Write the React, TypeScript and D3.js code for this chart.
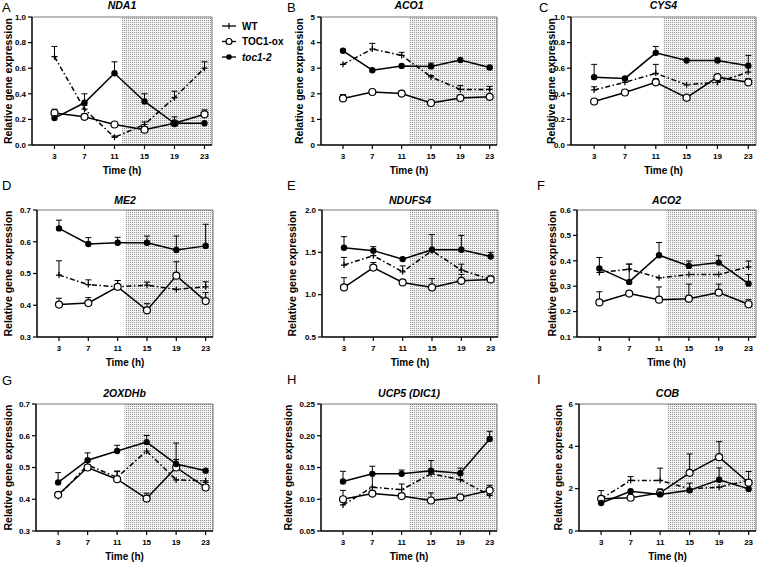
import React from "react";
import * as d3 from "d3";

const TIMES = [3, 7, 11, 15, 19, 23];

// A  NDA1
const nda1WT = [0.69, 0.28, 0.06, 0.16, 0.37, 0.6];
const nda1WTErr = [0.08, 0.03, 0.01, 0.02, 0.05, 0.05];
const nda1OX = [0.25, 0.22, 0.16, 0.12, 0.17, 0.24];
const nda1OXErr = [0.03, 0.02, 0, 0.02, 0.05, 0.035];
const nda1TOC = [0.21, 0.33, 0.56, 0.34, 0.17, 0.17];
const nda1TOCErr = [0.02, 0.07, 0.09, 0.06, 0, 0];

// B  ACO1
const aco1WT = [3.15, 3.75, 3.5, 2.66, 2.17, 2.17];
const aco1WTErr = [0, 0.22, 0.12, 0.05, 0.15, 0.12];
const aco1OX = [1.82, 2.07, 2.01, 1.64, 1.84, 1.88];
const aco1OXErr = [0.15, 0, 0, 0, 0, 0];
const aco1TOC = [3.68, 2.92, 3.09, 3.07, 3.32, 3.03];
const aco1TOCErr = [0, 0, 0, 0.13, 0, 0];

// C  CYS4
const cys4WT = [0.43, 0.49, 0.56, 0.47, 0.49, 0.57];
const cys4WTErr = [0.025, 0, 0.07, 0, 0, 0.05];
const cys4OX = [0.34, 0.41, 0.49, 0.37, 0.53, 0.49];
const cys4OXErr = [0, 0, 0.03, 0, 0, 0.03];
const cys4TOC = [0.53, 0.52, 0.72, 0.66, 0.66, 0.62];
const cys4TOCErr = [0.1, 0, 0.05, 0, 0.02, 0.08];

// D  ME2
const me2WT = [0.495, 0.465, 0.458, 0.463, 0.45, 0.458];
const me2WTErr = [0.045, 0.015, 0.02, 0.01, 0, 0.016];
const me2OX = [0.402, 0.407, 0.458, 0.384, 0.493, 0.413];
const me2OXErr = [0.02, 0.017, 0.02, 0.021, 0.044, 0.027];
const me2TOC = [0.642, 0.593, 0.597, 0.597, 0.574, 0.587];
const me2TOCErr = [0.026, 0.02, 0.017, 0.021, 0.044, 0.068];

// E  NDUFS4
const ndufs4WT = [1.35, 1.46, 1.27, 1.52, 1.29, 1.18];
const ndufs4WTErr = [0.09, 0, 0.07, 0, 0.07, 0.04];
const ndufs4OX = [1.085, 1.32, 1.144, 1.085, 1.164, 1.18];
const ndufs4OXErr = [0.115, 0.06, 0, 0.105, 0.076, 0];
const ndufs4TOC = [1.555, 1.52, 1.42, 1.53, 1.53, 1.45];
const ndufs4TOCErr = [0.13, 0.047, 0, 0.18, 0.17, 0.05];

// F  ACO2
const aco2WT = [0.354, 0.367, 0.333, 0.346, 0.346, 0.376];
const aco2WTErr = [0, 0.02, 0, 0, 0, 0.023];
const aco2OX = [0.236, 0.271, 0.247, 0.251, 0.275, 0.229];
const aco2OXErr = [0.042, 0, 0.05, 0.057, 0.033, 0.018];
const aco2TOC = [0.37, 0.317, 0.422, 0.38, 0.393, 0.31];
const aco2TOCErr = [0.043, 0.07, 0.05, 0.019, 0.027, 0.036];

// G  2OXDHb
const oxdhWT = [0.409, 0.508, 0.469, 0.552, 0.461, 0.458];
const oxdhWTErr = [0, 0, 0.02, 0, 0, 0];
const oxdhOX = [0.414, 0.5, 0.463, 0.402, 0.5, 0.437];
const oxdhOXErr = [0, 0, 0.024, 0.017, 0.077, 0.016];
const oxdhTOC = [0.453, 0.523, 0.552, 0.58, 0.511, 0.49];
const oxdhTOCErr = [0.031, 0.023, 0.018, 0.021, 0.014, 0];

// H  UCP5 (DIC1)
const ucp5WT = [0.091, 0.119, 0.115, 0.14, 0.131, 0.106];
const ucp5WTErr = [0, 0.021, 0.009, 0, 0, 0];
const ucp5OX = [0.1, 0.109, 0.105, 0.098, 0.103, 0.114];
const ucp5OXErr = [0.014, 0, 0, 0.012, 0, 0.008];
const ucp5TOC = [0.128, 0.14, 0.14, 0.145, 0.141, 0.195];
const ucp5TOCErr = [0.016, 0.012, 0.006, 0.016, 0.008, 0.012];

// I  COB
const cobWT = [1.52, 2.39, 2.39, 1.99, 2.07, 2.39];
const cobWTErr = [0.39, 0.18, 0.58, 0.27, 0, 0.42];
const cobOX = [1.52, 1.57, 1.8, 2.75, 3.49, 2.28];
const cobOXErr = [0, 0, 0.19, 0.89, 0.73, 0];
const cobTOC = [1.32, 1.88, 1.73, 1.92, 2.42, 1.99];
const cobTOCErr = [0, 0, 0, 0, 0.56, 0];

const FONT = "'Liberation Sans', Arial, sans-serif";

const panels = [
  { letter: "A", title: "NDA1", y: [0, 1], ticks: [0, 0.2, 0.4, 0.6, 0.8, 1.0], fmt: ".1f",
    wt: nda1WT, wtE: nda1WTErr, ox: nda1OX, oxE: nda1OXErr, toc: nda1TOC, tocE: nda1TOCErr,
    l: 32, r: 212, t: 17, b: 145, lx: 8, lt: 2, tb: 9, lb: 12 },
  { letter: "B", title: "ACO1", y: [0, 5], ticks: [0, 1, 2, 3, 4, 5], fmt: "d",
    wt: aco1WT, wtE: aco1WTErr, ox: aco1OX, oxE: aco1OXErr, toc: aco1TOC, tocE: aco1TOCErr,
    l: 321, r: 497, t: 17, b: 145, lx: 299, lt: 287, tb: 9, lb: 12 },
  { letter: "C", title: "CYS4", y: [0, 1], ticks: [0, 0.2, 0.4, 0.6, 0.8, 1.0], fmt: ".1f",
    wt: cys4WT, wtE: cys4WTErr, ox: cys4OX, oxE: cys4OXErr, toc: cys4TOC, tocE: cys4TOCErr,
    l: 571, r: 756, t: 17, b: 145, lx: 551, lt: 539, tb: 9, lb: 12 },
  { letter: "D", title: "ME2", y: [0.3, 0.7], ticks: [0.3, 0.4, 0.5, 0.6, 0.7], fmt: ".1f",
    wt: me2WT, wtE: me2WTErr, ox: me2OX, oxE: me2OXErr, toc: me2TOC, tocE: me2TOCErr,
    l: 37, r: 213, t: 210, b: 337, lx: 8, lt: 2, tb: 204, lb: 190 },
  { letter: "E", title: "NDUFS4", y: [0.5, 2.0], ticks: [0.5, 1.0, 1.5, 2.0], fmt: ".1f",
    wt: ndufs4WT, wtE: ndufs4WTErr, ox: ndufs4OX, oxE: ndufs4OXErr, toc: ndufs4TOC, tocE: ndufs4TOCErr,
    l: 322, r: 498, t: 210, b: 337, lx: 292, lt: 287, tb: 204, lb: 190 },
  { letter: "F", title: "ACO2", y: [0.1, 0.6], ticks: [0.1, 0.2, 0.3, 0.4, 0.5, 0.6], fmt: ".1f",
    wt: aco2WT, wtE: aco2WTErr, ox: aco2OX, oxE: aco2OXErr, toc: aco2TOC, tocE: aco2TOCErr,
    l: 577, r: 756, t: 210, b: 337, lx: 552, lt: 537, tb: 204, lb: 190 },
  { letter: "G", title: "2OXDHb", y: [0.3, 0.7], ticks: [0.3, 0.4, 0.5, 0.6, 0.7], fmt: ".1f",
    wt: oxdhWT, wtE: oxdhWTErr, ox: oxdhOX, oxE: oxdhOXErr, toc: oxdhTOC, tocE: oxdhTOCErr,
    l: 36, r: 213, t: 404, b: 531, lx: 8, lt: 2, tb: 397, lb: 385 },
  { letter: "H", title: "UCP5 (DIC1)", y: [0.05, 0.25], ticks: [0.05, 0.1, 0.15, 0.2, 0.25], fmt: ".2f",
    wt: ucp5WT, wtE: ucp5WTErr, ox: ucp5OX, oxE: ucp5OXErr, toc: ucp5TOC, tocE: ucp5TOCErr,
    l: 321, r: 497, t: 404, b: 531, lx: 288, lt: 287, tb: 397, lb: 384 },
  { letter: "I", title: "COB", y: [0, 6], ticks: [0, 2, 4, 6], fmt: "d",
    wt: cobWT, wtE: cobWTErr, ox: cobOX, oxE: cobOXErr, toc: cobTOC, tocE: cobTOCErr,
    l: 579, r: 756, t: 404, b: 531, lx: 558, lt: 537, tb: 397, lb: 384 },
];

const ErrBars = ({ xs, ys, vals, errs }) => (
  <g stroke="black" strokeWidth={1}>
    {vals.map((v, i) =>
      errs[i] > 0 ? (
        <g key={i}>
          <line x1={xs(TIMES[i])} x2={xs(TIMES[i])} y1={ys(v)} y2={ys(v + errs[i])} />
          <line x1={xs(TIMES[i]) - 3} x2={xs(TIMES[i]) + 3} y1={ys(v + errs[i])} y2={ys(v + errs[i])} />
        </g>
      ) : null
    )}
  </g>
);

const Panel = ({ p }) => {
  const xs = d3.scaleLinear().domain([0, 24]).range([p.l, p.r]);
  const ys = d3.scaleLinear().domain(p.y).range([p.b, p.t]);
  const line = d3
    .line<number>()
    .x((d, i) => xs(TIMES[i]))
    .y((d) => ys(d));
  const fmt = d3.format(p.fmt);
  const cy = (p.t + p.b) / 2;

  return (
    <g>
      <text x={p.lt} y={p.lb} fontSize={13} fontFamily={FONT}>
        {p.letter}
      </text>
      <text
        x={(p.l + p.r) / 2}
        y={p.tb}
        textAnchor="middle"
        fontSize={10.5}
        fontWeight="bold"
        fontStyle="italic"
        fontFamily={FONT}
      >
        {p.title}
      </text>
      <rect x={xs(12)} y={p.t} width={xs(24) - xs(12)} height={p.b - p.t} fill="url(#dots)" />
      <path
        d={`M${p.l},${p.t}H${p.r}V${p.b}`}
        fill="none"
        stroke="#555"
        strokeWidth={0.8}
      />
      {/* axes */}
      <line x1={p.l} x2={p.l} y1={p.t} y2={p.b} stroke="black" strokeWidth={1.5} />
      <line x1={p.l} x2={p.r} y1={p.b} y2={p.b} stroke="black" strokeWidth={1.5} />
      {p.ticks.map((t) => (
        <g key={t}>
          <line x1={p.l - 4} x2={p.l} y1={ys(t)} y2={ys(t)} stroke="black" strokeWidth={1.2} />
          <text
            x={p.l - 6}
            y={ys(t)}
            dy="0.35em"
            textAnchor="end"
            fontSize={8}
            fontWeight="bold"
            fontFamily={FONT}
          >
            {fmt(t)}
          </text>
        </g>
      ))}
      {TIMES.map((t) => (
        <g key={t}>
          <line x1={xs(t)} x2={xs(t)} y1={p.b} y2={p.b + 4} stroke="black" strokeWidth={1.2} />
          <text
            x={xs(t)}
            y={p.b + 13.5}
            textAnchor="middle"
            fontSize={8}
            fontWeight="bold"
            fontFamily={FONT}
          >
            {t}
          </text>
        </g>
      ))}
      <text
        x={(p.l + p.r) / 2}
        y={p.b + 29}
        textAnchor="middle"
        fontSize={10}
        fontWeight="bold"
        fontFamily={FONT}
      >
        Time (h)
      </text>
      <text
        transform={`translate(${p.lx + 3.5},${cy}) rotate(-90)`}
        textAnchor="middle"
        fontSize={10.5}
        fontWeight="bold"
        fontFamily={FONT}
      >
        Relative gene expression
      </text>

      {/* series */}
      <path d={line(p.wt)} fill="none" stroke="black" strokeWidth={1.5} strokeDasharray="5,2.5,1.5,2.5" />
      <path d={line(p.ox)} fill="none" stroke="black" strokeWidth={1.5} />
      <path d={line(p.toc)} fill="none" stroke="black" strokeWidth={1.5} />
      <ErrBars xs={xs} ys={ys} vals={p.wt} errs={p.wtE} />
      <ErrBars xs={xs} ys={ys} vals={p.ox} errs={p.oxE} />
      <ErrBars xs={xs} ys={ys} vals={p.toc} errs={p.tocE} />
      {p.wt.map((v, i) => (
        <path
          key={"w" + i}
          d={`M${xs(TIMES[i]) - 3},${ys(v)}h6M${xs(TIMES[i])},${ys(v) - 3}v6`}
          stroke="black"
          strokeWidth={1.2}
        />
      ))}
      {p.ox.map((v, i) => (
        <circle key={"o" + i} cx={xs(TIMES[i])} cy={ys(v)} r={3.5} fill="white" stroke="black" strokeWidth={1.2} />
      ))}
      {p.toc.map((v, i) => (
        <circle key={"t" + i} cx={xs(TIMES[i])} cy={ys(v)} r={3.2} fill="black" />
      ))}
    </g>
  );
};

const legendItems = ["WT", "TOC1-ox", "toc1-2"];

const Legend = () => (
  <g fontFamily={FONT} fontSize={10} fontWeight="bold">
    {legendItems.map((name, i) => {
      const y = 26 + i * 15.5;
      return (
        <g key={name}>
          <line
            x1={222}
            x2={236}
            y1={y}
            y2={y}
            stroke="black"
            strokeWidth={1.3}
          />
          {i === 0 && <line x1={229} x2={229} y1={y - 3} y2={y + 3} stroke="black" strokeWidth={1.2} />}
          {i === 1 && <circle cx={229} cy={y} r={3} fill="white" stroke="black" strokeWidth={1.2} />}
          {i === 2 && <circle cx={229} cy={y} r={2.8} fill="black" />}
          <text x={242} y={y} dy="0.35em" fontStyle={i === 2 ? "italic" : "normal"}>
            {name}
          </text>
        </g>
      );
    })}
  </g>
);

export default function App() {
  return (
    <svg
      width={760}
      height={564}
      style={{ position: "absolute", left: 0, top: 0, background: "white" }}
    >
      <defs>
        <pattern id="dots" width={2} height={2} patternUnits="userSpaceOnUse">
          <rect width={2} height={2} fill="#f4f4f4" />
          <rect width={1} height={1} fill="#939393" />
        </pattern>
      </defs>
      {panels.map((p) => (
        <Panel key={p.letter} p={p} />
      ))}
      <Legend />
    </svg>
  );
}
